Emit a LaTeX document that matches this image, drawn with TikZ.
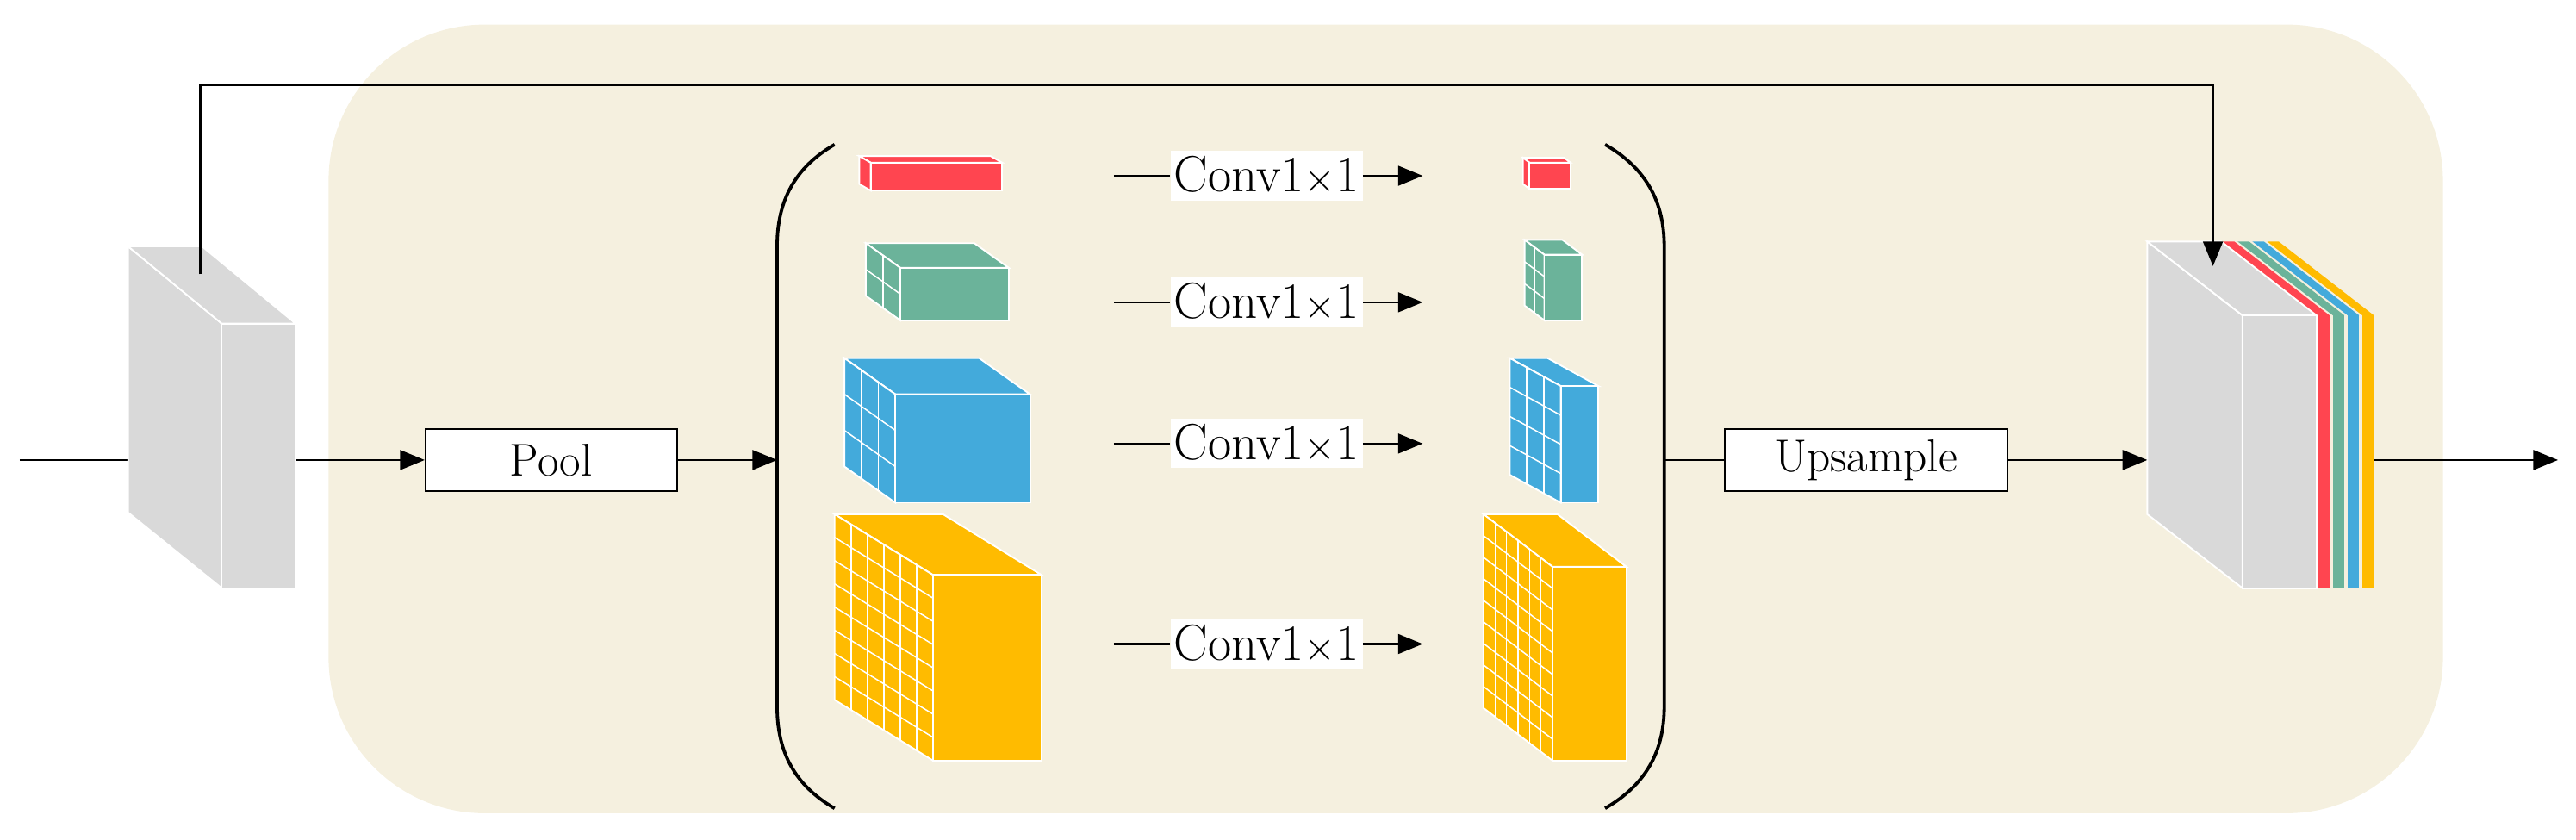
\documentclass[tikz,border=0pt]{standalone}
\usetikzlibrary{arrows.meta}
\definecolor{bg}{HTML}{F5F0DF}
\definecolor{cr}{HTML}{FF4550}
\definecolor{cg}{HTML}{6BB39A}
\definecolor{cb}{HTML}{43AADB}
\definecolor{cy}{HTML}{FFBB00}
\definecolor{cgr}{HTML}{D9D9D9}
\newcommand{\mycube}[9]{% color fx fy w h dx dy cols rows
  \fill[#1,draw=white,line width=1pt] (#2,#3) -- (#2-#6,#3-#7) -- (#2-#6+#4,#3-#7) -- (#2+#4,#3) -- cycle;
  \fill[#1,draw=white,line width=1pt] (#2,#3) -- (#2-#6,#3-#7) -- (#2-#6,#3+#5-#7) -- (#2,#3+#5) -- cycle;
  \fill[#1,draw=white,line width=1pt] (#2,#3) rectangle (#2+#4,#3+#5);
  \ifnum#8>1
  \foreach \i in {1,...,\numexpr#8-1\relax}{
    \draw[white,line width=0.8pt] ({#2-\i/#8*#6},{#3-\i/#8*#7}) -- ({#2-\i/#8*#6},{#3+#5-\i/#8*#7});}
  \fi
  \ifnum#9>1
  \foreach \j in {1,...,\numexpr#9-1\relax}{
    \draw[white,line width=0.8pt] (#2,{#3+\j/#9*#5}) -- (#2-#6,{#3+\j/#9*#5-#7});}
  \fi
}
\begin{document}
\begin{tikzpicture}[x=1pt,y=-1pt,
  tip/.tip={Triangle[length=15pt,width=12pt]},
  arr/.style={line width=1.3pt,-tip},
  ln/.style={line width=1.3pt},
  box/.style={draw=black,fill=white,line width=1pt,minimum height=38pt,font=\fontsize{28}{32}\selectfont,inner sep=2pt},
  conv/.style={fill=white,font=\fontsize{31}{34}\selectfont,inner sep=2pt,minimum height=30pt}]
\useasboundingbox (0,0) rectangle (1568,511);
\fill[bg] (200,15) [rounded corners=95pt] rectangle (1487,495);
% input line
\coordinate (in) at (12,280);
\coordinate (s1) at (100,280);
\draw[ln] (in) -- (s1);
% left slab
\fill[cgr,draw=white,line width=1pt] (78,150) -- (135,197) -- (135,358) -- (78,312) -- cycle;
\fill[cgr,draw=white,line width=1pt] (78,150) -- (123,150) -- (180,197) -- (135,197) -- cycle;
\fill[cgr,draw=white,line width=1pt] (135,197) rectangle (180,358);
\coordinate (s1out) at (180,280);
\coordinate (skip0) at (122,167);
\coordinate (skip1) at (122,52);
\coordinate (skip2) at (1347,52);
\coordinate (skip3) at (1347,162);
% right slab
\fill[cgr,draw=white,line width=1pt] (1307,147) -- (1365,192) -- (1365,358) -- (1307,313) -- cycle;
\fill[cgr,draw=white,line width=1pt] (1307,147) -- (1352,147) -- (1410,192) -- (1365,192) -- cycle;
\fill[cgr,draw=white,line width=1pt] (1365,192) rectangle (1410,358);
\foreach \c/\x in {cr/1411,cg/1420,cb/1429,cy/1438}{
  \fill[\c] (\x,192) -- (\x-58,147) -- (\x-51,147) -- (\x+7,192) -- cycle;
  \fill[\c] (\x,192) rectangle (\x+7,358);
}
\coordinate (s2in) at (1307,280);
\coordinate (s2out) at (1445,280);
\coordinate (out) at (1557,280);
\draw[arr] (skip0) -- (skip1) -- (skip2) -- (skip3);
% pool
\node[box,minimum width=153pt] (pool) at (335.5,280) {Pool};
\draw[arr] (s1out) -- (pool.west);
% brackets
\draw[line width=2pt] (508,88) to[out=210,in=90] (473,150) -- (473,430) to[out=-90,in=150] (508,492);
\draw[line width=2pt] (977,88) to[out=-30,in=90] (1013,150) -- (1013,430) to[out=-90,in=30] (977,492);
\coordinate (bl) at (473,280);
\coordinate (br) at (1013,280);
\draw[arr] (pool.east) -- (bl);
\node[box,minimum width=172pt] (up) at (1136,280) {Upsample};
\draw[ln] (br) -- (up.west);
\draw[arr] (up.east) -- (s2in);
\draw[arr] (s2out) -- (out);
% cubes left
\mycube{cr}{530}{99}{80}{17}{7}{4}{1}{1}
\mycube{cg}{548}{163}{66}{32}{21}{15}{2}{2}
\mycube{cb}{545}{240}{82}{66}{31}{22}{3}{3}
\mycube{cy}{568}{350}{66}{113}{60}{37}{6}{8}
% cubes right
\mycube{cr}{931}{99}{25}{16}{4}{3}{1}{1}
\mycube{cg}{940}{155}{23}{40}{12}{9}{2}{3}
\mycube{cb}{950}{235}{23}{71}{31}{17}{3}{4}
\mycube{cy}{945}{345}{45}{118}{42}{32}{6}{9}
% conv labels
\foreach \n/\y in {a/107,b/184,c/270,d/392}{
  \coordinate (l\n) at (678,\y);
  \coordinate (r\n) at (866,\y);
  \node[conv] (c\n) at (771,\y) {Conv1$\times$1};
  \draw[ln] (l\n) -- (c\n.west);
  \draw[arr] (c\n.east) -- (r\n);
}
\end{tikzpicture}
\end{document}
